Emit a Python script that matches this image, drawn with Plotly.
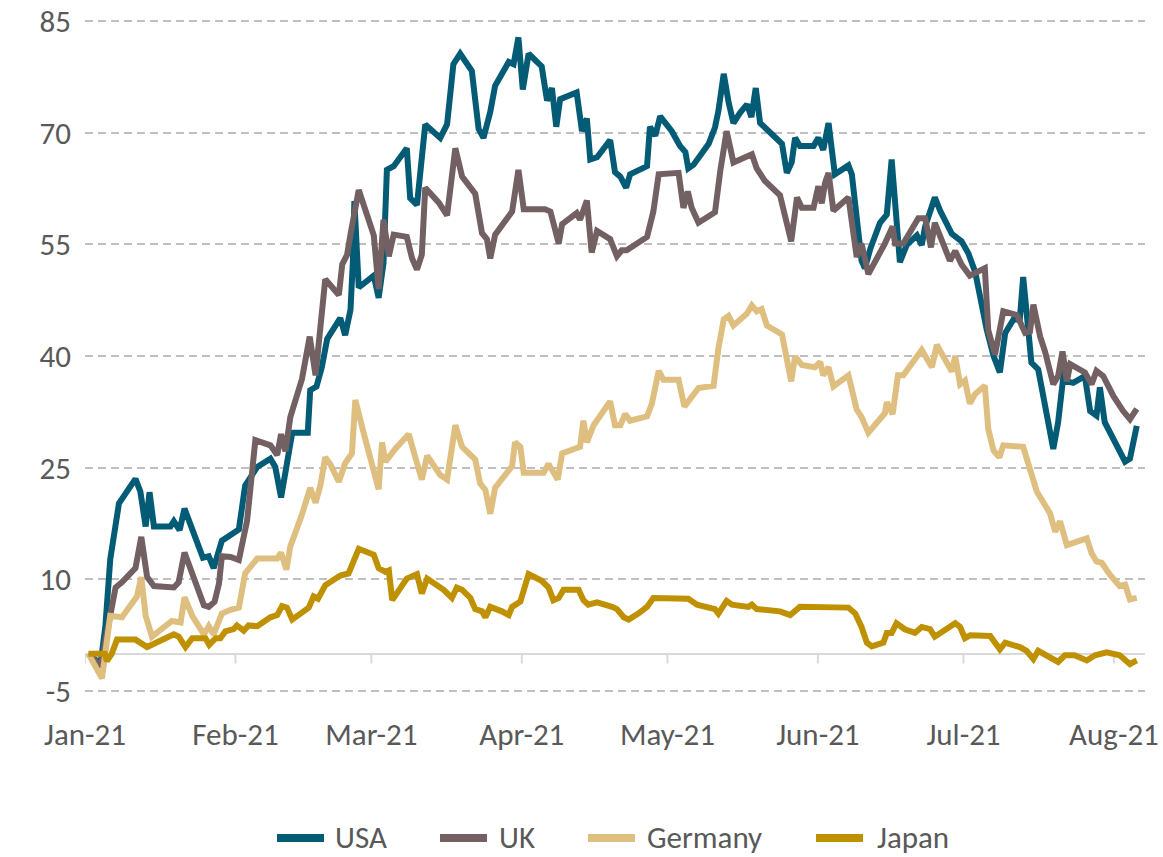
import pandas as pd
import plotly.graph_objects as go

start = pd.Timestamp('2021-01-01')

# x values are days after 1 Jan 2021
usa_day = [0.7, 3.2, 4.2, 5.2, 7.0, 10.4, 11.4, 12.5, 13.3, 14.2,
           17.6, 18.3, 19.5, 20.5, 22.8, 24.3, 25.5, 26.5, 28.2, 30.0,
           31.7, 33.0, 35.5, 38.2, 39.2, 40.4, 42.7, 45.9, 46.4, 47.7,
           48.8, 49.9, 52.6, 53.6, 54.7, 55.2, 55.5, 56.4, 59.5, 60.5,
           61.5, 62.2, 63.6, 66.3, 67.0, 68.4, 70.1, 73.2, 74.6, 75.9,
           77.3, 79.7, 81.1, 82.1, 83.5, 84.5, 87.3, 88.3, 89.3, 90.2,
           91.4, 94.1, 95.2, 96.2, 97.1, 97.9, 101.3, 102.4, 103.4, 104.1,
           105.5, 108.2, 109.2, 110.3, 111.5, 112.3, 115.8, 116.4, 117.5, 118.5,
           120.9, 122.6, 123.7, 124.3, 125.4, 128.5, 129.8, 130.5, 131.6, 132.6,
           133.6, 135.0, 136.4, 137.3, 138.2, 139.1, 140.1, 142.2, 143.6, 144.6,
           145.6, 146.3, 147.3, 150.1, 151.1, 152.1, 153.2, 154.5, 157.3, 158.0,
           160.0, 160.7, 161.8, 163.8, 165.2, 166.2, 166.9, 167.9, 169.3, 171.4,
           172.4, 173.1, 175.1, 176.2, 178.6, 180.6, 182.0, 183.4, 185.8, 187.2,
           188.5, 189.6, 191.3, 192.6, 193.3, 194.4, 195.0, 196.4, 199.5, 200.5,
           201.9, 202.3, 203.6, 206.0, 207.1, 208.4, 209.1, 210.1, 212.5, 214.3,
           215.3, 216.7]
usa_val = [0.0, -1.4, 3.7, 12.7, 20.2, 23.5, 21.8, 17.1, 21.7, 17.1,
           17.1, 17.8, 16.6, 19.5, 15.5, 12.9, 13.1, 11.5, 15.2, 16.0,
           16.7, 22.6, 25.1, 26.2, 25.1, 21.0, 29.7, 29.7, 35.4, 35.9,
           38.5, 42.3, 45.1, 42.8, 46.2, 52.8, 60.8, 49.2, 50.8, 47.8,
           52.5, 65.0, 65.5, 67.9, 61.2, 60.3, 71.1, 69.3, 71.1, 79.2,
           80.6, 78.3, 70.5, 69.3, 72.8, 76.3, 79.5, 79.2, 82.8, 75.8,
           80.6, 78.9, 74.3, 76.0, 70.8, 74.5, 75.4, 70.2, 71.9, 66.4,
           66.7, 69.0, 64.7, 64.1, 62.6, 64.4, 65.5, 70.8, 69.6, 72.2,
           70.2, 68.2, 67.4, 65.2, 65.7, 68.5, 70.7, 72.9, 77.9, 74.1,
           71.3, 72.7, 73.8, 72.1, 76.0, 71.3, 70.7, 69.6, 68.5, 64.6,
           66.0, 69.3, 68.2, 68.2, 69.3, 67.7, 71.3, 64.4, 65.6, 64.4,
           52.8, 51.8, 54.4, 57.9, 59.0, 66.4, 59.5, 52.6, 54.9, 56.2,
           54.9, 57.4, 61.3, 59.5, 56.4, 55.4, 53.8, 51.3, 43.5, 40.0,
           37.8, 43.1, 44.9, 44.9, 50.6, 44.0, 39.1, 38.2, 27.5, 31.1,
           39.1, 36.6, 36.4, 37.3, 32.6, 32.0, 35.8, 31.1, 28.0, 25.8,
           26.2, 30.6]

uk_day = [0.7, 3.2, 6.3, 7.6, 10.4, 11.6, 12.8, 14.2, 18.3, 19.3,
          20.5, 22.1, 24.5, 25.5, 26.7, 27.6, 28.2, 30.0, 31.7, 33.4,
          35.1, 38.2, 39.6, 40.4, 41.3, 42.3, 44.7, 46.3, 47.5, 49.5,
          52.3, 53.0, 54.0, 54.8, 56.4, 59.5, 60.5, 61.5, 62.6, 63.6,
          66.3, 67.4, 68.4, 69.4, 70.1, 72.9, 74.6, 76.3, 77.7, 80.4,
          81.8, 82.8, 83.5, 84.5, 88.0, 89.3, 90.4, 94.8, 95.9, 97.6,
          98.3, 101.3, 102.0, 103.4, 104.4, 105.5, 108.2, 109.6, 110.6, 111.6,
          115.8, 117.1, 118.2, 122.3, 123.3, 124.2, 125.0, 126.4, 129.8, 130.9,
          132.2, 133.6, 137.4, 138.4, 140.1, 143.2, 144.6, 145.5, 146.7, 147.7,
          150.1, 151.1, 151.8, 152.5, 153.2, 154.2, 157.3, 159.0, 160.0, 161.4,
          164.8, 166.4, 166.9, 168.6, 171.7, 173.1, 174.3, 175.1, 178.2, 179.3,
          180.6, 182.3, 185.4, 186.1, 187.5, 189.2, 192.0, 193.7, 194.7, 195.4,
          196.8, 197.8, 199.5, 200.5, 201.4, 202.3, 203.0, 206.0, 207.4, 208.4,
          209.8, 211.9, 213.9, 215.3, 216.7]
uk_val = [0.0, -1.7, 8.9, 9.6, 11.5, 15.7, 10.3, 9.1, 8.9, 9.6,
          13.6, 10.8, 6.5, 6.3, 7.0, 9.4, 13.1, 13.0, 12.6, 17.9,
          28.7, 28.0, 26.7, 29.5, 27.2, 31.8, 36.9, 42.6, 37.4, 50.3,
          48.2, 52.3, 53.6, 56.7, 62.3, 56.2, 49.0, 58.3, 53.4, 56.3,
          56.0, 53.1, 51.6, 53.6, 62.6, 60.6, 58.9, 67.9, 64.1, 61.8,
          56.5, 55.7, 53.1, 56.3, 59.4, 65.0, 59.7, 59.7, 59.4, 55.1,
          57.7, 59.2, 58.3, 60.9, 53.9, 56.8, 55.7, 53.4, 54.2, 54.2,
          56.0, 59.4, 64.4, 64.6, 59.9, 62.1, 59.9, 57.9, 59.3, 64.9,
          70.2, 66.0, 67.1, 65.2, 63.5, 61.6, 58.2, 55.4, 61.3, 59.9,
          59.9, 62.8, 60.5, 63.3, 64.6, 59.5, 61.3, 53.3, 55.1, 51.0,
          55.1, 57.4, 55.1, 55.1, 58.5, 58.5, 54.6, 57.9, 52.8, 54.1,
          52.3, 50.8, 51.8, 43.5, 40.2, 46.0, 45.5, 43.1, 43.3, 46.9,
          42.6, 40.6, 36.2, 37.3, 40.6, 36.6, 38.9, 37.8, 36.2, 38.0,
          37.3, 34.6, 32.6, 31.5, 32.9]

de_day = [0.7, 3.5, 5.2, 7.6, 10.7, 11.6, 12.5, 13.8, 17.9, 19.7,
          20.5, 22.1, 24.5, 25.5, 26.5, 28.2, 30.0, 31.7, 33.0, 34.1,
          35.5, 39.6, 40.4, 41.5, 42.3, 44.7, 45.7, 46.4, 47.5, 48.5,
          49.5, 50.6, 52.3, 53.6, 55.0, 55.7, 57.4, 59.1, 60.5, 61.2,
          61.9, 63.9, 66.7, 68.1, 69.4, 70.5, 73.2, 74.6, 76.3, 77.7,
          80.4, 81.4, 82.5, 83.5, 84.5, 88.0, 88.6, 89.7, 90.4, 94.5,
          95.5, 97.4, 98.3, 102.0, 102.7, 103.4, 104.8, 108.2, 109.2, 110.3,
          111.3, 112.3, 115.8, 116.8, 118.2, 119.2, 122.3, 123.5, 124.7, 126.4,
          129.5, 130.5, 131.6, 132.6, 133.6, 136.4, 137.4, 138.4, 139.4, 140.5,
          143.6, 144.6, 145.5, 146.3, 147.7, 150.4, 151.5, 152.1, 153.2, 154.2,
          157.3, 159.0, 160.0, 161.4, 164.8, 165.2, 166.4, 167.5, 168.6, 172.4,
          174.5, 175.5, 178.6, 179.3, 180.3, 181.3, 182.3, 183.4, 185.4, 186.1,
          187.2, 188.4, 189.2, 193.3, 194.4, 196.1, 198.8, 199.9, 200.9, 202.3,
          206.4, 207.4, 208.4, 209.5, 211.2, 213.2, 214.3, 215.3, 216.7]
de_val = [0.0, -3.3, 5.1, 4.9, 7.7, 10.3, 5.1, 2.3, 4.4, 4.2,
          7.6, 5.1, 2.6, 3.7, 2.6, 5.4, 5.9, 6.2, 10.8, 11.8,
          12.8, 12.8, 13.6, 11.3, 14.4, 18.7, 20.5, 22.3, 20.3, 22.6,
          26.4, 25.4, 23.1, 25.6, 26.9, 34.1, 29.7, 25.1, 22.1, 28.4,
          25.8, 27.5, 29.5, 26.3, 23.4, 26.6, 24.0, 23.4, 30.7, 27.8,
          26.1, 22.9, 22.0, 18.8, 22.3, 25.2, 28.4, 27.8, 24.3, 24.3,
          25.5, 23.4, 26.9, 27.8, 31.3, 28.4, 30.7, 33.9, 30.7, 30.7,
          32.2, 31.3, 31.9, 33.6, 38.0, 36.8, 36.8, 33.2, 34.3, 35.7,
          36.0, 41.0, 44.9, 45.4, 44.1, 45.7, 46.8, 46.0, 46.3, 44.1,
          42.9, 39.9, 36.6, 39.9, 38.8, 38.5, 39.2, 37.4, 38.5, 35.9,
          37.4, 32.8, 31.8, 29.7, 32.3, 33.8, 32.2, 37.4, 37.4, 40.8,
          38.5, 41.5, 37.9, 40.0, 36.2, 36.7, 33.6, 34.9, 36.0, 30.2,
          27.3, 26.4, 28.0, 27.8, 25.3, 21.8, 18.9, 16.4, 17.8, 14.6,
          15.5, 13.5, 12.4, 12.2, 10.6, 9.1, 9.3, 7.3, 7.5]

jp_day = [0.7, 4.1, 4.5, 5.5, 6.6, 10.4, 12.8, 15.2, 18.3, 19.3,
          20.7, 22.1, 24.8, 25.6, 26.9, 27.9, 28.9, 30.6, 31.3, 32.7,
          33.7, 35.5, 36.8, 38.2, 39.6, 40.6, 41.6, 42.7, 44.4, 46.1,
          47.1, 48.0, 49.5, 51.2, 52.6, 54.3, 55.4, 56.4, 59.5, 60.5,
          61.9, 62.6, 63.3, 64.6, 66.3, 68.4, 69.4, 70.5, 72.5, 73.9,
          75.6, 76.6, 77.7, 79.4, 80.4, 81.8, 82.5, 83.5, 85.9, 87.3,
          88.0, 89.7, 91.4, 94.1, 95.5, 96.5, 97.6, 98.6, 101.7, 102.7,
          103.7, 105.5, 108.6, 109.6, 111.0, 112.0, 114.0, 115.8, 117.1, 120.6,
          124.3, 126.1, 129.8, 130.5, 132.2, 133.3, 136.7, 137.4, 138.4, 143.2,
          145.3, 147.3, 151.1, 152.5, 154.2, 157.3, 158.7, 160.0, 161.1, 162.1,
          164.5, 165.2, 166.2, 167.2, 168.9, 171.0, 172.4, 174.1, 175.1, 177.2,
          179.3, 180.3, 181.3, 182.4, 184.4, 186.5, 188.5, 189.6, 192.6, 194.0,
          195.4, 196.4, 200.5, 201.9, 203.9, 206.4, 208.1, 210.5, 213.2, 215.3,
          216.7]
jp_val = [0.0, 0.0, -1.0, 0.0, 1.9, 1.9, 0.9, 1.6, 2.6, 2.3,
          0.9, 2.1, 2.1, 1.2, 2.1, 2.1, 3.0, 3.3, 3.8, 3.1,
          3.8, 3.7, 4.4, 4.9, 5.2, 6.4, 6.2, 4.6, 5.4, 6.2,
          7.7, 7.4, 9.2, 10.0, 10.5, 10.8, 12.8, 14.1, 13.3, 11.5,
          11.0, 11.2, 7.2, 8.6, 10.1, 10.7, 8.1, 10.1, 9.2, 8.6,
          7.5, 8.9, 8.6, 7.5, 6.0, 5.7, 4.9, 6.3, 5.7, 5.2,
          6.3, 7.0, 10.7, 9.8, 8.9, 7.2, 7.5, 8.6, 8.6, 7.2,
          6.6, 6.9, 6.3, 6.0, 4.9, 4.6, 5.4, 6.3, 7.5, 7.5,
          7.4, 6.6, 6.0, 5.4, 7.1, 6.6, 6.3, 6.6, 6.0, 5.7,
          5.2, 6.3, 6.3, 6.2, 6.4, 6.2, 5.4, 3.6, 1.5, 1.0,
          1.5, 2.8, 2.8, 4.1, 3.3, 2.8, 3.6, 3.3, 2.3, 3.3,
          4.1, 3.6, 2.1, 2.5, 2.4, 2.4, 0.6, 1.5, 0.9, 0.4,
          -0.7, 0.4, -1.1, -0.2, -0.2, -0.9, -0.2, 0.2, -0.2, -1.4,
          -0.9]

month_starts = ['2021-01-01', '2021-02-01', '2021-03-01', '2021-04-01',
                '2021-05-01', '2021-06-01', '2021-07-01', '2021-08-01']
month_labels = ['Jan-21', 'Feb-21', 'Mar-21', 'Apr-21',
                'May-21', 'Jun-21', 'Jul-21', 'Aug-21']
y_ticks = [-5, 10, 25, 40, 55, 70, 85]
y_labels = ['-5', '10', '25', '40', '55', '70', '85']

series = [
    ('USA', usa_day, usa_val, '#045B75'),
    ('UK', uk_day, uk_val, '#736063'),
    ('Germany', de_day, de_val, '#DFBF80'),
    ('Japan', jp_day, jp_val, '#BF9000'),
]

fig = go.Figure()
for name, days, vals, color in series:
    fig.add_trace(go.Scatter(
        x=start + pd.to_timedelta(days, unit='D'),
        y=vals,
        mode='lines',
        name=name,
        line=dict(color=color, width=6),
        showlegend=False,
    ))

# small month tick marks hanging off the zero line
for m in month_starts:
    fig.add_shape(type='line', xref='x', yref='y', x0=m, x1=m, y0=0, y1=-1.3,
                  line=dict(color='#D9D9D9', width=2), layer='below')

# plot box in pixels; y range padded a little so the -5 and 85 grid lines show
plot_l, plot_r, plot_t, plot_b = 85, 1145, 19, 693
y_lo, y_hi = -5.27, 85.27


def px_x(p):
    return (p - plot_l) / (plot_r - plot_l)


def px_y(p):
    return (plot_b - p) / (plot_b - plot_t)


# legend drawn by hand so the swatches and gaps match the original
legend_y = 837
legend_pos = [(274, 333), (437, 497), (585, 645), (813, 875)]
for (name, _, _, color), (lx, tx) in zip(series, legend_pos):
    fig.add_shape(type='line', xref='paper', yref='paper',
                  x0=px_x(lx + 3), x1=px_x(lx + 50),
                  y0=px_y(legend_y + 1), y1=px_y(legend_y + 1),
                  line=dict(color=color, width=8))
    fig.add_annotation(text=name, xref='paper', yref='paper',
                       x=px_x(tx), y=px_y(legend_y), xanchor='left', yanchor='middle',
                       showarrow=False, font=dict(size=31, color='#595959'))

font_family = 'Calibri, Carlito, Lato, sans-serif'

fig.update_layout(
    width=1163, height=857,
    margin=dict(l=plot_l, r=1163 - plot_r, t=plot_t, b=857 - plot_b),
    plot_bgcolor='white', paper_bgcolor='white',
    font=dict(family=font_family, size=31, color='#595959'),
    showlegend=False,
)
fig.update_xaxes(
    type='date',
    range=[start, start + pd.Timedelta(days=218.4)],
    tickvals=month_starts, ticktext=month_labels,
    showgrid=False, showline=False, zeroline=False, ticks='',
    ticklabelstandoff=20, tickfont=dict(size=31), automargin=False,
)
fig.update_yaxes(
    range=[y_lo, y_hi],
    tickvals=y_ticks, ticktext=y_labels,
    showgrid=True, gridcolor='#BFBFBF', gridwidth=1.5, griddash='8px,5px',
    zeroline=True, zerolinecolor='#D9D9D9', zerolinewidth=2,
    showline=False, ticks='', ticklabelstandoff=13, tickfont=dict(size=31),
    automargin=False,
)

fig.write_html("out.html", config={'displayModeBar': False},
               post_script="document.body.style.margin='0';")
